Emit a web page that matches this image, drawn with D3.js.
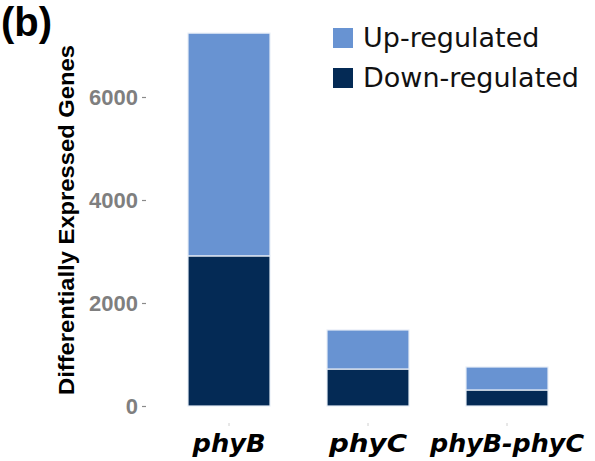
<!DOCTYPE html>
<html>
<head>
<meta charset="utf-8">
<script src="https://cdn.jsdelivr.net/npm/d3@7"></script>
<style>
  body { margin: 0; background: #fff; }
  svg { display: block; }
</style>
</head>
<body>
<div id="chart"></div>
<script>
// data
var genotypes = ["phyB", "phyC", "phyB-phyC"];
var downRegulated = [2915, 718, 311];
var upRegulated = [4325, 758, 446];   // stacked on top of down
var yTicks = [0, 2000, 4000, 6000];
var seriesNames = ["Up-regulated", "Down-regulated"];
var seriesColors = ["#6893d2", "#042a55"];

var width = 595, height = 461;

var svg = d3.select("#chart").append("svg")
  .attr("width", width)
  .attr("height", height);

// scales
var x = d3.scaleBand()
  .domain(genotypes)
  .range([159.5, 576.5])
  .paddingInner(0.41)
  .paddingOuter(0.205);

var y = d3.scaleLinear()
  .domain([0, 6000])
  .range([406, 97]);

// stack the two series
var rows = genotypes.map(function (g, i) {
  return { genotype: g, down: downRegulated[i], up: upRegulated[i] };
});
var stacked = d3.stack().keys(["down", "up"])(rows);
var colorOf = { down: seriesColors[1], up: seriesColors[0] };

svg.append("g")
  .selectAll("g")
  .data(stacked)
  .join("g")
  .attr("fill", function (d) { return colorOf[d.key]; })
  .selectAll("rect")
  .data(function (d) { return d; })
  .join("rect")
  .attr("x", function (d) { return x(d.data.genotype); })
  .attr("width", x.bandwidth())
  .attr("y", function (d) { return y(d[1]); })
  .attr("height", function (d) { return y(d[0]) - y(d[1]); })
  .attr("stroke", "#e8eef7")
  .attr("stroke-width", 1.2);

// y axis
var yAxis = svg.append("g")
  .attr("transform", "translate(146,0)")
  .call(d3.axisLeft(y).tickValues(yTicks).tickFormat(d3.format("d")).tickSize(4).tickPadding(4));
yAxis.select(".domain").remove();
yAxis.selectAll(".tick line").attr("stroke", "#8a8a8a").attr("stroke-width", 1.2);
yAxis.selectAll(".tick text")
  .attr("fill", "#7f7f7f")
  .style("font-family", "'Liberation Sans', Arial, sans-serif")
  .style("font-weight", "bold")
  .style("font-size", "22px")
  .attr("dy", "0.36em");

// x axis
var xAxis = svg.append("g")
  .attr("transform", "translate(0,423)")
  .call(d3.axisBottom(x).tickSize(3).tickPadding(12));
xAxis.select(".domain").remove();
xAxis.selectAll(".tick line").attr("stroke", "#d0d0d0");
var labelWidths = { "phyB": 73, "phyC": 78, "phyB-phyC": 154 };
xAxis.selectAll(".tick text")
  .attr("fill", "#000")
  .attr("y", 29)
  .attr("dy", 0)
  .style("font-family", "'DejaVu Sans', Verdana, sans-serif")
  .style("font-weight", "bold")
  .style("font-style", "italic")
  .style("font-size", "24px")
  .attr("textLength", function (d) { return labelWidths[d]; })
  .attr("lengthAdjust", "spacingAndGlyphs");

// y axis title
svg.append("text")
  .attr("transform", "translate(74,220) rotate(-90)")
  .attr("text-anchor", "middle")
  .attr("textLength", 350)
  .attr("lengthAdjust", "spacingAndGlyphs")
  .style("font-family", "'Liberation Sans', Arial, sans-serif")
  .style("font-weight", "bold")
  .style("font-size", "22px")
  .text("Differentially Expressed Genes");

// panel letter
svg.append("text")
  .attr("x", 1)
  .attr("y", 36)
  .style("font-family", "'Liberation Sans', Arial, sans-serif")
  .style("font-weight", "bold")
  .style("font-size", "40px")
  .text("(b)");

// legend
var legend = svg.append("g")
  .attr("transform", "translate(333,28)")
  .selectAll("g")
  .data(seriesNames)
  .join("g")
  .attr("transform", function (d, i) { return "translate(0," + (i * 40) + ")"; });

legend.append("rect")
  .attr("width", 20)
  .attr("height", 20)
  .attr("fill", function (d, i) { return seriesColors[i]; });

legend.append("text")
  .attr("x", 30)
  .attr("y", 19)
  .style("font-family", "'DejaVu Sans', Verdana, sans-serif")
  .style("font-size", "27px")
  .attr("fill", "#111")
  .text(function (d) { return d; });
</script>
</body>
</html>
